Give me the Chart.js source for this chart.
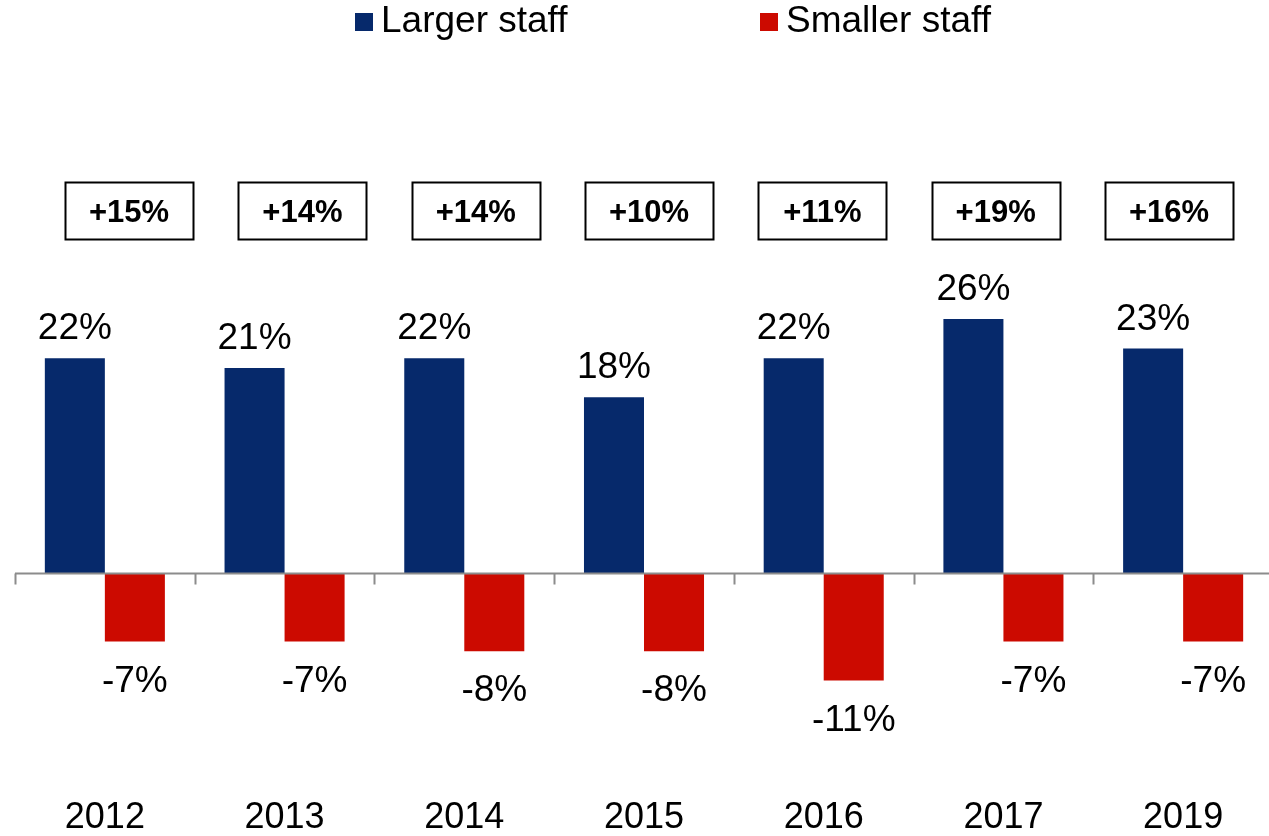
<!DOCTYPE html>
<html>
<head>
<meta charset="utf-8">
<script src="https://cdn.jsdelivr.net/npm/chart.js@4.4.1/dist/chart.umd.min.js"></script>
<style>
  html, body { margin: 0; padding: 0; background: #fff; overflow: hidden; }
  #wrap { width: 1280px; height: 836px; }
</style>
</head>
<body>
<div id="wrap"><canvas id="grafico" width="1280" height="836"></canvas></div>
<script>
// datos
const anios = ['2012', '2013', '2014', '2015', '2016', '2017', '2019'];
const mayorPersonal = [22, 21, 22, 18, 22, 26, 23];
const menorPersonal = [-7, -7, -8, -8, -11, -7, -7];
const saldoNeto = ['+15%', '+14%', '+14%', '+10%', '+11%', '+19%', '+16%'];

const FUENTE = '"Liberation Sans", Arial, sans-serif';

// leyenda propia, para controlar el espaciado
const leyendaPlugin = {
    id: 'leyendaPropia',
    afterDraw(chart) {
        const ctx = chart.ctx;
        const posiciones = [355, 760];
        ctx.save();
        ctx.font = '37px ' + FUENTE;
        ctx.textBaseline = 'middle';
        ctx.textAlign = 'left';
        chart.data.datasets.forEach((ds, i) => {
            const x = posiciones[i];
            ctx.fillStyle = ds.backgroundColor;
            ctx.fillRect(x, 13, 18, 18);
            ctx.fillStyle = '#000';
            ctx.fillText(ds.label, x + 26, 22);
        });
        ctx.restore();
    }
};

// linea de cero con marcas entre categorias
const ejeCeroPlugin = {
    id: 'ejeCero',
    afterDatasetsDraw(chart) {
        const ctx = chart.ctx;
        const x = chart.scales.x;
        const y0 = Math.round(chart.scales.y.getPixelForValue(0)) + 0.5;
        const ancho = (x.right - x.left) / anios.length;
        ctx.save();
        ctx.strokeStyle = '#8c8c8c';
        ctx.lineWidth = 2;
        ctx.beginPath();
        ctx.moveTo(x.left, y0);
        ctx.lineTo(x.right, y0);
        for (let i = 0; i <= anios.length; i++) {
            const px = Math.round(x.left + i * ancho) + 0.5;
            ctx.moveTo(px, y0);
            ctx.lineTo(px, y0 + 11);
        }
        ctx.stroke();
        ctx.restore();
    }
};

// etiquetas de valor y cajas con el saldo neto
const etiquetasPlugin = {
    id: 'etiquetas',
    afterDatasetsDraw(chart) {
        const ctx = chart.ctx;
        ctx.save();
        ctx.font = '37px ' + FUENTE;
        ctx.fillStyle = '#000';
        ctx.textAlign = 'center';
        ctx.textBaseline = 'middle';
        chart.data.datasets.forEach((ds, d) => {
            chart.getDatasetMeta(d).data.forEach((bar, i) => {
                const v = ds.data[i];
                const ty = v >= 0 ? bar.y - 29 : bar.y + 40;
                ctx.fillText(v + '%', bar.x, ty);
            });
        });

        // las cajas no van centradas en la categoria: paso algo menor
        const x = chart.scales.x;
        const paso = (x.right - x.left) / 7.258;
        ctx.font = 'bold 31px ' + FUENTE;
        ctx.strokeStyle = '#000';
        ctx.lineWidth = 2;
        saldoNeto.forEach((txt, i) => {
            const cx = x.left + (i + 0.658) * paso;
            ctx.strokeRect(Math.round(cx - 64) + 0.5, 182.5, 128, 57);
            ctx.fillText(txt, cx, 213);
        });
        ctx.restore();
    }
};

new Chart(document.getElementById('grafico'), {
    type: 'bar',
    data: {
        labels: anios,
        datasets: [
            { label: 'Larger staff', data: mayorPersonal, backgroundColor: '#06296b' },
            { label: 'Smaller staff', data: menorPersonal, backgroundColor: '#cc0a00' }
        ]
    },
    options: {
        responsive: false,
        animation: false,
        events: [],
        layout: { padding: { left: 15, right: 7, top: 280, bottom: 0 } },
        datasets: { bar: { categoryPercentage: 0.668, barPercentage: 1.0 } },
        plugins: {
            legend: { display: false },
            tooltip: { enabled: false }
        },
        scales: {
            x: {
                grid: { display: false },
                border: { display: false },
                ticks: {
                    color: '#000',
                    font: { family: FUENTE, size: 36 },
                    padding: 20,
                    maxRotation: 0
                },
                afterFit: (escala) => { escala.height = 67.5; }
            },
            y: {
                display: false,
                min: -20,
                max: 30
            }
        }
    },
    plugins: [leyendaPlugin, ejeCeroPlugin, etiquetasPlugin]
});
</script>
</body>
</html>
